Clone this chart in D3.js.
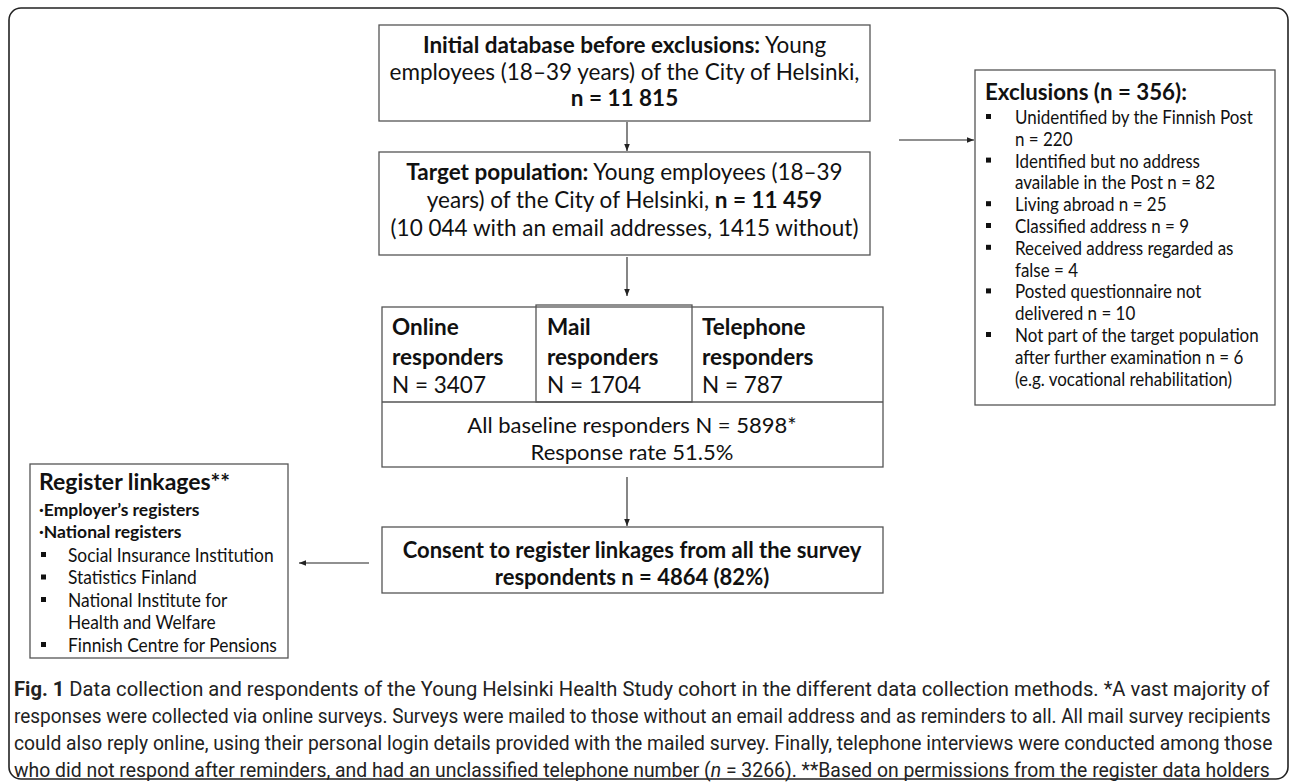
<!DOCTYPE html>
<html>
<head>
<meta charset="utf-8">
<script src="https://cdn.jsdelivr.net/npm/d3@7"></script>
<style>
  body { margin: 0; background: #fff; }
  svg { display: block; }
</style>
</head>
<body>
<div id="chart"></div>
<script>
// Flowchart: Young Helsinki Health Study data collection

var FONT = "Lato, 'Open Sans', sans-serif";
var CAPFONT = "'Liberation Sans Narrow', Roboto, sans-serif";

// ---- data ----
var initialLines = [
  [{t: "Initial database before exclusions:", b: true}, {t: " Young"}],
  [{t: "employees (18\u201339 years) of the City of Helsinki,"}],
  [{t: "n = 11 815", b: true}]
];
var targetLines = [
  [{t: "Target population:", b: true}, {t: " Young employees (18\u201339"}],
  [{t: "years) of the City of Helsinki, "}, {t: "n = 11 459", b: true}],
  [{t: "(10 044 with an email addresses, 1415 without)"}]
];
var modes = ["Online", "Mail", "Telephone"];
var modeCounts = [3407, 1704, 787];
var baselineLines = ["All baseline responders N = 5898*", "Response rate 51.5%"];
var consentLines = ["Consent to register linkages from all the survey", "respondents n = 4864 (82%)"];
var exclusionTitle = "Exclusions (n = 356):";
var exclusionItems = [
  ["Unidentified by the Finnish Post", "n = 220"],
  ["Identified but no address", "available in the Post n = 82"],
  ["Living abroad n = 25"],
  ["Classified address n = 9"],
  ["Received address regarded as", "false = 4"],
  ["Posted questionnaire not", "delivered n = 10"],
  ["Not part of the target population", "after further examination n = 6", "(e.g. vocational rehabilitation)"]
];
var registerTitle = "Register linkages**";
var registerGroups = ["\u00b7Employer\u2019s registers", "\u00b7National registers"];
var registerItems = [
  ["Social Insurance Institution"],
  ["Statistics Finland"],
  ["National Institute for", "Health and Welfare"],
  ["Finnish Centre for Pensions"]
];
var captionLines = [
  [{t: "Fig. 1", b: true}, {t: " Data collection and respondents of the Young Helsinki Health Study cohort in the different data collection methods. *A vast majority of"}],
  [{t: "responses were collected via online surveys. Surveys were mailed to those without an email address and as reminders to all. All mail survey recipients"}],
  [{t: "could also reply online, using their personal login details provided with the mailed survey. Finally, telephone interviews were conducted among those"}],
  [{t: "who did not respond after reminders, and had an unclassified telephone number ("}, {t: "n", i: true}, {t: " = 3266). **Based on permissions from the register data holders"}]
];

// ---- layout ----
var W = 1290, H = 782;
var svg = d3.select("#chart").append("svg").attr("width", W).attr("height", H);

var boxes = [
  {x: 379, y: 25, w: 491, h: 96},
  {x: 379, y: 152, w: 491, h: 103},
  {x: 382, y: 307, w: 501, h: 160},
  {x: 536, y: 305, w: 156, h: 97},
  {x: 382, y: 527, w: 501, h: 66},
  {x: 975, y: 70, w: 300, h: 335},
  {x: 30, y: 464, w: 258, h: 194}
];
var arrows = [
  {x1: 627, y1: 122, x2: 627, y2: 151},
  {x1: 627, y1: 257, x2: 627, y2: 296},
  {x1: 627, y1: 477, x2: 627, y2: 526},
  {x1: 899, y1: 140, x2: 974, y2: 140},
  {x1: 369, y1: 563, x2: 299, y2: 563}
];

// outer frame
svg.append("rect").attr("x", 9).attr("y", 8).attr("width", 1279).attr("height", 771)
  .attr("rx", 12).attr("fill", "none").attr("stroke", "#222").attr("stroke-width", 1.6);

svg.append("defs").append("marker").attr("id", "ah")
  .attr("viewBox", "0 0 10 10").attr("refX", 10).attr("refY", 5)
  .attr("markerWidth", 7).attr("markerHeight", 7).attr("markerUnits", "userSpaceOnUse")
  .attr("orient", "auto")
  .append("path").attr("d", "M0,1 L10,5 L0,9 Z").attr("fill", "#222");

svg.selectAll("rect.box").data(boxes).join("rect").attr("class", "box")
  .attr("x", d => d.x).attr("y", d => d.y).attr("width", d => d.w).attr("height", d => d.h)
  .attr("fill", "none").attr("stroke", "#555").attr("stroke-width", 1.3);
// divider line inside responders box
svg.append("line").attr("x1", 382).attr("x2", 883).attr("y1", 402).attr("y2", 402)
  .attr("stroke", "#555").attr("stroke-width", 1.3);

svg.selectAll("line.arrow").data(arrows).join("line").attr("class", "arrow")
  .attr("x1", d => d.x1).attr("y1", d => d.y1).attr("x2", d => d.x2).attr("y2", d => d.y2)
  .attr("stroke", "#222").attr("stroke-width", 1.1).attr("marker-end", "url(#ah)");

// text helper: y is vertical centre of capitals; squeeze/width scale the line horizontally
function line(segs, x, y, opt) {
  opt = opt || {};
  var size = opt.size || 22.5;
  if (typeof segs === "string") segs = [{t: segs, b: opt.bold}];
  var base = y + size * 0.36;
  var t = svg.append("text").attr("x", 0).attr("y", 0)
    .attr("transform", "translate(" + x + "," + base + ")")
    .attr("font-family", opt.font || FONT).attr("font-size", size)
    .attr("fill", opt.fill || "#111")
    .attr("text-anchor", opt.anchor || "start");
  segs.forEach(function(s) {
    t.append("tspan").text(s.t)
      .attr("font-weight", s.b ? "bold" : null)
      .attr("font-style", s.i ? "italic" : null);
  });
  var sx = 1;
  if (opt.squeeze) sx = opt.squeeze;
  if (opt.width) sx = opt.width / t.node().getComputedTextLength();
  if (sx !== 1) t.attr("transform", "translate(" + x + "," + base + ") scale(" + sx + ",1)");
  return t;
}

var cy1 = [45, 72, 98];
initialLines.forEach((l, i) => line(l, 624.5, cy1[i], {anchor: "middle"}));
var cy2 = [172, 200, 228];
targetLines.forEach((l, i) => line(l, 624.5, cy2[i], {anchor: "middle"}));

var modeX = [392, 547, 702];
modes.forEach(function(m, i) {
  line(m, modeX[i], 327, {bold: true});
  line("responders", modeX[i], 357, {bold: true});
  line("N = " + modeCounts[i], modeX[i], 385);
});
baselineLines.forEach((l, i) => line(l, 632, 425 + i * 27, {anchor: "middle", size: 22}));
consentLines.forEach((l, i) => line(l, 632, 550 + i * 27, {anchor: "middle", bold: true, size: 22}));

// exclusions
line(exclusionTitle, 985, 92, {bold: true, size: 23, squeeze: 0.97});
var ey = 117, estep = 21.8;
exclusionItems.forEach(function(item) {
  svg.append("rect").attr("x", 986).attr("y", ey - 3).attr("width", 5).attr("height", 5).attr("fill", "#111");
  item.forEach(function(s) {
    line(s, 1015, ey, {size: 19.5, squeeze: 0.87});
    ey += estep;
  });
});

// register linkages
line(registerTitle, 39, 482, {bold: true, size: 23});
registerGroups.forEach((g, i) => line(g, 39, 510 + i * 22, {bold: true, size: 17.5}));
var ry = 555;
registerItems.forEach(function(item) {
  svg.append("rect").attr("x", 41).attr("y", ry - 3).attr("width", 5).attr("height", 5).attr("fill", "#111");
  item.forEach(function(s) {
    line(s, 68, ry, {size: 18.5, squeeze: 0.94});
    ry += 22.5;
  });
});

// caption
var capY = [689, 716, 743, 770];
var capW = [1256, 1257, 1260, 1256];
captionLines.forEach((l, i) => line(l, 14, capY[i], {size: 20, font: CAPFONT, fill: "#222", width: capW[i]}));
</script>
</body>
</html>
